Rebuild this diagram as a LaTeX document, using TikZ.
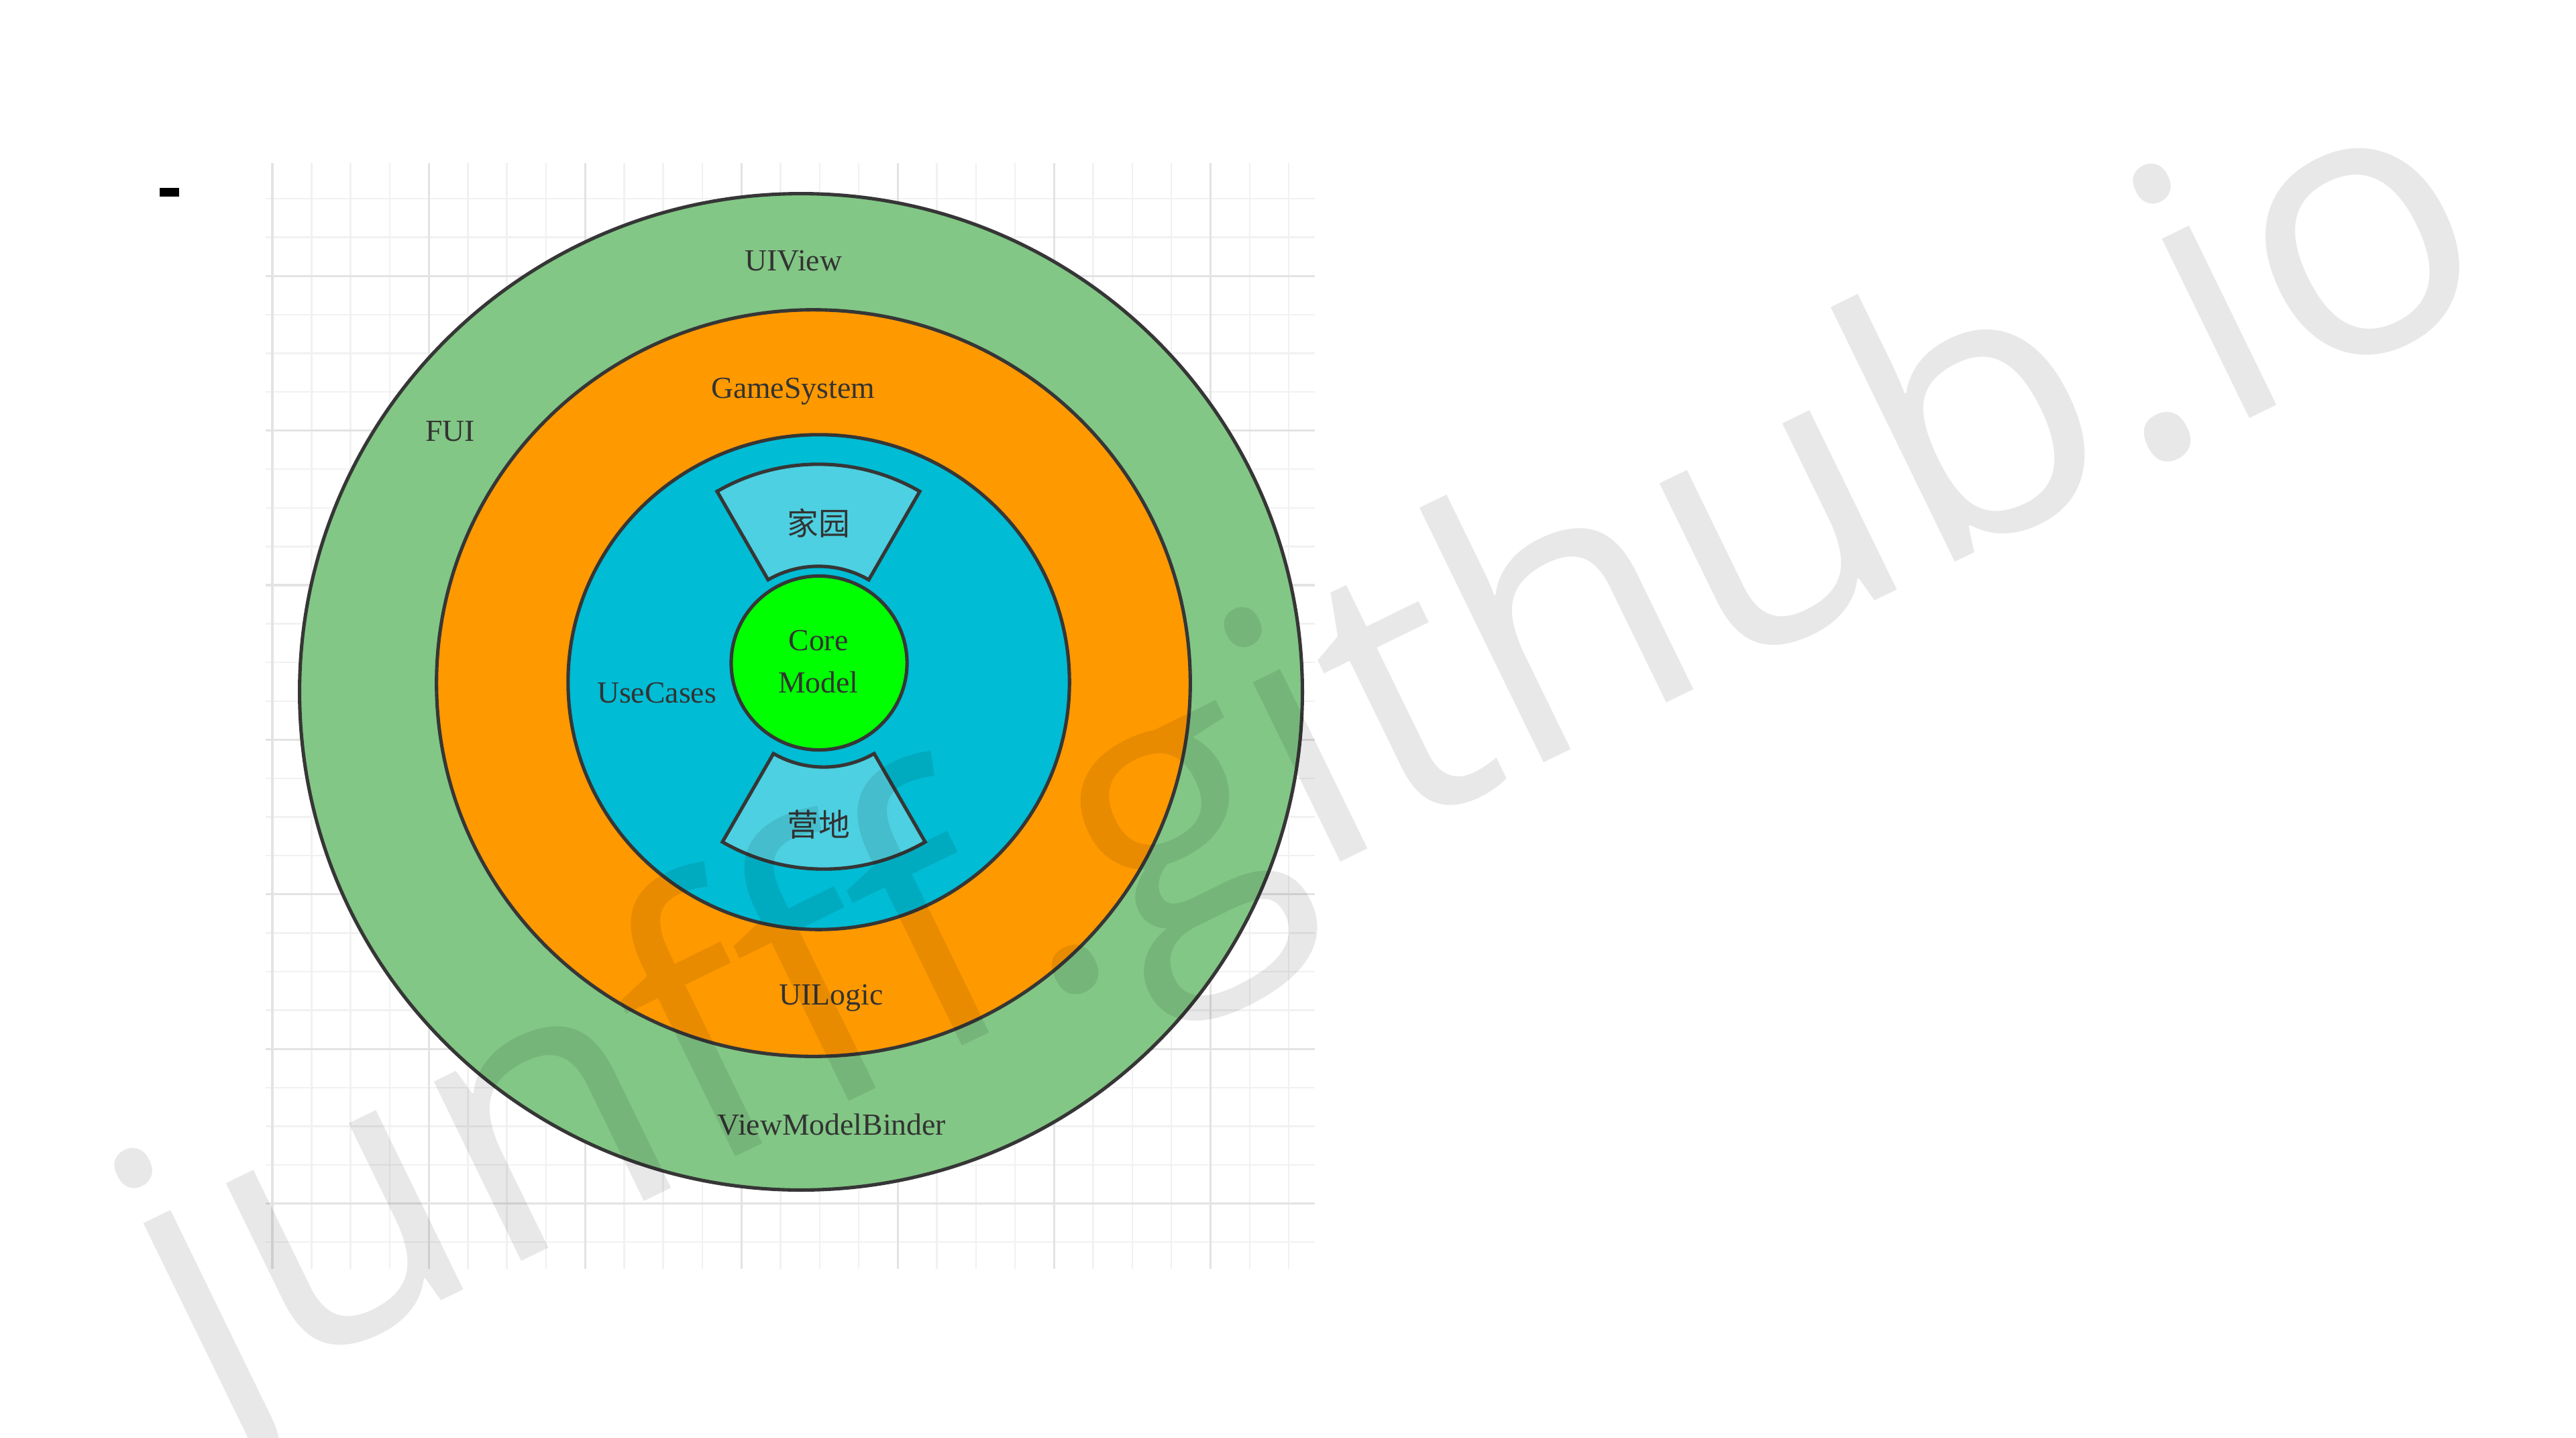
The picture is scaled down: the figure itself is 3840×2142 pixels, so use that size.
\documentclass[tikz,border=0pt]{standalone}
\usepackage{fontspec}
\setmainfont{Liberation Serif}
\newfontfamily\cjkfont{Noto Sans CJK SC}
\newfontfamily\wmfont{Open Sans}
\usetikzlibrary{calc}
\definecolor{ringgreen}{HTML}{82C785}
\definecolor{ringorange}{HTML}{FF9900}
\definecolor{ringcyan}{HTML}{00BCD4}
\definecolor{sectorcyan}{HTML}{4DD0E1}
\definecolor{coregreen}{HTML}{00FF00}
\definecolor{edgegray}{HTML}{363636}
\definecolor{labeltext}{HTML}{333333}
\definecolor{gridminor}{HTML}{F1F1F1}
\definecolor{gridmajor}{HTML}{E3E3E3}
\begin{document}
\begin{tikzpicture}[x=0.01cm,y=-0.01cm,
  ring/.style={draw=edgegray,line width=1.45pt},
  gmin/.style={draw=gridminor,line width=0.7pt},
  gmaj/.style={draw=gridmajor,line width=0.9pt},
  lbl/.style={text=labeltext,font=\fontsize{13}{15.6}\selectfont,inner sep=0pt,anchor=base},
  cjklbl/.style={text=labeltext,font=\cjkfont\fontsize{13.3}{16}\selectfont,inner sep=0pt,anchor=center},
  wm/.style={text=black,text opacity=0.09,font=\wmfont\fontsize{158}{163}\selectfont,inner sep=0pt}]
\fill[white] (0,0) rectangle (3840,2142);
\useasboundingbox (0,0) rectangle (3840,2142);
% grid
\foreach \k in {0,...,26}{
  \pgfmathtruncatemacro\m{mod(\k,4)}
  \pgfmathsetmacro\gx{406+58.27*\k}
  \ifnum\m=0\relax\else\draw[gmin] (\gx,243) -- (\gx,1891);\fi}
\foreach \k in {0,...,27}{
  \pgfmathtruncatemacro\m{mod(\k,4)}
  \pgfmathsetmacro\gy{296+57.6*\k}
  \ifnum\m=2\relax\else\draw[gmin] (396,\gy) -- (1960,\gy);\fi}
\foreach \k in {0,4,...,24}{
  \pgfmathsetmacro\gx{406+58.27*\k}
  \draw[gmaj] (\gx,243) -- (\gx,1891);}
\foreach \k in {2,6,...,26}{
  \pgfmathsetmacro\gy{296+57.6*\k}
  \draw[gmaj] (396,\gy) -- (1960,\gy);}
% bullet dash
\node[fill=black,minimum width=0.29cm,minimum height=0.13cm,inner sep=0pt] (bullet) at (252.5,286.5) {};
% rings
\coordinate (outerc) at (1194,1031);
\coordinate (orangec) at (1212.5,1018);
\coordinate (cyanc) at (1220.5,1016.5);
\coordinate (corec) at (1221,988);
\coordinate (topc) at (1220,994);
\coordinate (botc) at (1228,993);
\draw[ring,fill=ringgreen] (outerc) ellipse [x radius=7.47cm, y radius=7.42cm];
\draw[ring,fill=ringorange] (orangec) ellipse [x radius=5.615cm, y radius=5.56cm];
\draw[ring,fill=ringcyan] (cyanc) ellipse [x radius=3.735cm, y radius=3.685cm];
% sectors
\draw[ring,fill=sectorcyan] ($(topc)+(60:3.02cm)$) arc[start angle=60,end angle=120,radius=3.02cm]
  -- ($(topc)+(120:1.5cm)$) arc[start angle=120,end angle=60,radius=1.5cm] -- cycle;
\draw[ring,fill=sectorcyan] ($(botc)+(240:3.02cm)$) arc[start angle=240,end angle=300,radius=3.02cm]
  -- ($(botc)+(300:1.5cm)$) arc[start angle=300,end angle=240,radius=1.5cm] -- cycle;
% core
\draw[ring,fill=coregreen] (corec) ellipse [x radius=1.31cm, y radius=1.295cm];
% labels
\node[lbl] (uiview) at (1183,403) {UIView};
\node[lbl] (fui) at (671,657) {FUI};
\node[lbl] (gamesystem) at (1182,593) {GameSystem};
\node[lbl] (usecases) at (979,1047) {UseCases};
\node[lbl] (core) at (1220,969) {Core};
\node[lbl] (model) at (1220,1032) {Model};
\node[cjklbl] (jiayuan) at (1220,780) {家园};
\node[cjklbl] (yingdi) at (1220,1229) {营地};
\node[lbl] (uilogic) at (1239,1497) {UILogic};
\node[lbl] (vmbinder) at (1240,1691) {ViewModelBinder};
% watermark
\node[wm,rotate=26,anchor=base west] (watermark) at (301,2112) {junfff.github.io};
\end{tikzpicture}
\end{document}
